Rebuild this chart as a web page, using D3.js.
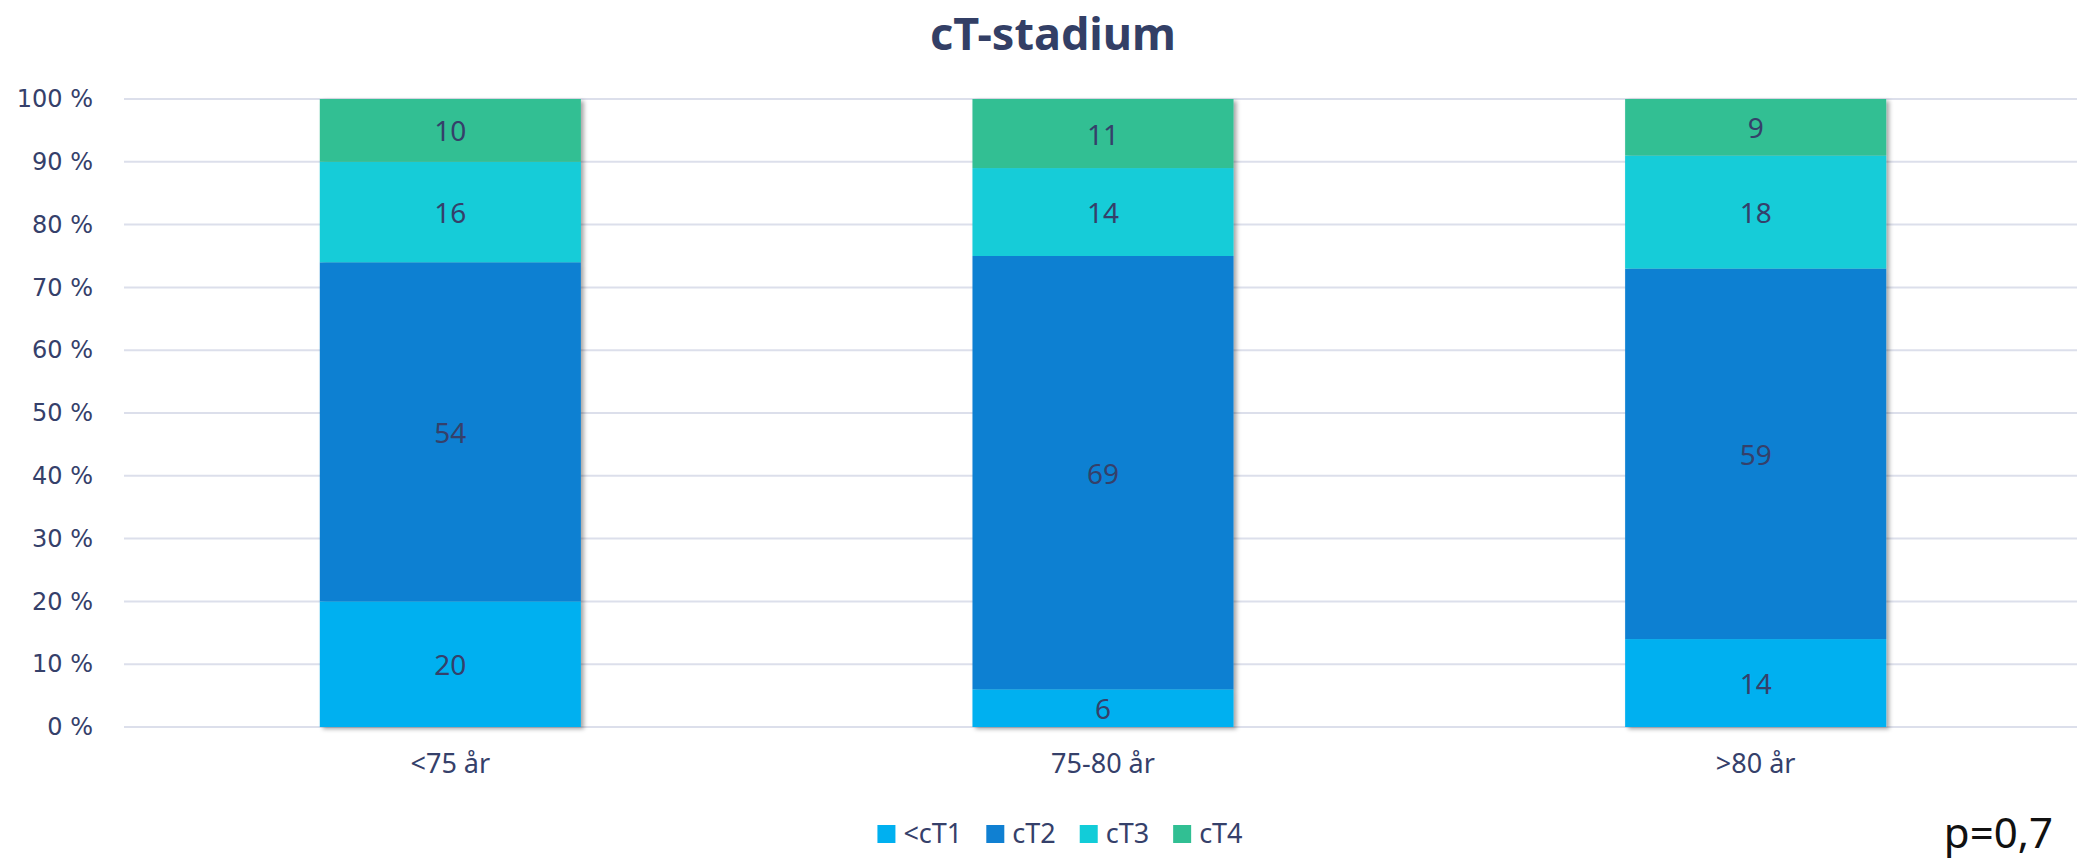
<!DOCTYPE html>
<html>
<head>
<meta charset="utf-8">
<script src="https://cdn.jsdelivr.net/npm/d3@7"></script>
<style>
  body { margin: 0; background: #ffffff; }
  svg { display: block; }
</style>
</head>
<body>
<script>
// Chart data
const categories = ["<75 år", "75-80 år", ">80 år"];
const seriesNames = ["<cT1", "cT2", "cT3", "cT4"];
const cT1 = [20, 6, 14];
const cT2 = [54, 69, 59];
const cT3 = [16, 14, 18];
const cT4 = [10, 11, 9];
const yTicks = [0, 10, 20, 30, 40, 50, 60, 70, 80, 90, 100];
const seriesColors = ["#00b0f0", "#1080d2", "#12ccd8", "#31bf93"];

const width = 2077;
const height = 862;
const textColor = "#35406a";

const svg = d3.select("body")
  .append("svg")
  .attr("width", width)
  .attr("height", height);

// drop shadow on the bars
const defs = svg.append("defs");
defs.append("filter")
  .attr("id", "shadow")
  .attr("x", "-5%").attr("y", "-5%")
  .attr("width", "115%").attr("height", "115%")
  .append("feDropShadow")
  .attr("dx", 3)
  .attr("dy", 2)
  .attr("stdDeviation", 2)
  .attr("flood-color", "#000")
  .attr("flood-opacity", 0.35);

// build a table for d3.stack
const table = categories.map((c, i) => ({
  cat: c,
  "<cT1": cT1[i],
  "cT2": cT2[i],
  "cT3": cT3[i],
  "cT4": cT4[i]
}));
const stacked = d3.stack().keys(seriesNames)(table);

const x = d3.scaleBand()
  .domain(categories)
  .range([124, 2082])
  .paddingInner(0.6)
  .paddingOuter(0.3);

const y = d3.scaleLinear()
  .domain([0, 100])
  .range([727, 99]);

const color = d3.scaleOrdinal().domain(seriesNames).range(seriesColors);

// Title
svg.append("text")
  .attr("x", 1053)
  .attr("y", 50)
  .attr("text-anchor", "middle")
  .attr("fill", "#333f66")
  .style("font-family", "'Noto Sans', sans-serif")
  .style("font-weight", "bold")
  .style("font-size", "45px")
  .text("cT-stadium");

// Gridlines
svg.append("g")
  .selectAll("line")
  .data(yTicks)
  .enter()
  .append("line")
  .attr("x1", 124)
  .attr("x2", width)
  .attr("y1", d => y(d))
  .attr("y2", d => y(d))
  .attr("stroke", "#dcdfeb")
  .attr("stroke-width", 2);

// Y axis labels
const yAxis = svg.append("g")
  .attr("transform", "translate(93,0)")
  .call(d3.axisLeft(y).tickValues(yTicks).tickSize(0).tickPadding(0).tickFormat(d => d + " %"));
yAxis.select(".domain").remove();
yAxis.selectAll("text")
  .attr("fill", textColor)
  .style("font-family", "'DejaVu Sans', sans-serif")
  .style("font-size", "24px");

// X axis labels
const xAxis = svg.append("g")
  .attr("transform", `translate(0,${y(0)})`)
  .call(d3.axisBottom(x).tickSize(0).tickPadding(27));
xAxis.select(".domain").remove();
xAxis.selectAll("text")
  .attr("fill", textColor)
  .style("font-family", "'Noto Sans', sans-serif")
  .style("font-size", "27px");

// Bars: one group per category so the shadow wraps the whole stack
const barGroups = svg.append("g")
  .selectAll("g")
  .data(categories)
  .enter()
  .append("g")
  .attr("filter", "url(#shadow)");

barGroups.selectAll("rect")
  .data((c, i) => stacked.map(s => ({ key: s.key, lo: s[i][0], hi: s[i][1], cat: c })))
  .enter()
  .append("rect")
  .attr("x", d => x(d.cat))
  .attr("width", x.bandwidth())
  .attr("y", d => y(d.hi))
  .attr("height", d => y(d.lo) - y(d.hi))
  .attr("fill", d => color(d.key));

// Data labels
const segments = [];
stacked.forEach(s => {
  s.forEach((v, i) => segments.push({ key: s.key, lo: v[0], hi: v[1], cat: categories[i], val: v[1] - v[0] }));
});
svg.append("g")
  .selectAll("text")
  .data(segments)
  .enter()
  .append("text")
  .attr("x", d => x(d.cat) + x.bandwidth() / 2)
  .attr("y", d => (y(d.lo) + y(d.hi)) / 2)
  .attr("text-anchor", "middle")
  .attr("dominant-baseline", "central")
  .attr("fill", textColor)
  .style("font-family", "'Noto Sans', sans-serif")
  .style("font-size", "28px")
  .text(d => d.val);

// Legend
const legend = svg.append("g");
const items = legend.selectAll("g")
  .data(seriesNames)
  .enter()
  .append("g");
items.append("rect")
  .attr("width", 18)
  .attr("height", 18)
  .attr("y", -18)
  .attr("fill", d => color(d));
items.append("text")
  .attr("x", 26)
  .attr("fill", textColor)
  .style("font-family", "'Noto Sans', sans-serif")
  .style("font-size", "27px")
  .text(d => d);

let cursor = 0;
items.each(function () {
  const g = d3.select(this);
  g.attr("transform", `translate(${cursor},0)`);
  cursor += 26 + g.select("text").node().getComputedTextLength() + 24;
});
const legendWidth = cursor - 24;
legend.attr("transform", `translate(${1060 - legendWidth / 2},843)`);

// p-value note
svg.append("text")
  .attr("x", 2053)
  .attr("y", 848)
  .attr("text-anchor", "end")
  .attr("fill", "#111")
  .style("font-family", "'Noto Sans', sans-serif")
  .style("font-size", "42px")
  .text("p=0,7");
</script>
</body>
</html>
